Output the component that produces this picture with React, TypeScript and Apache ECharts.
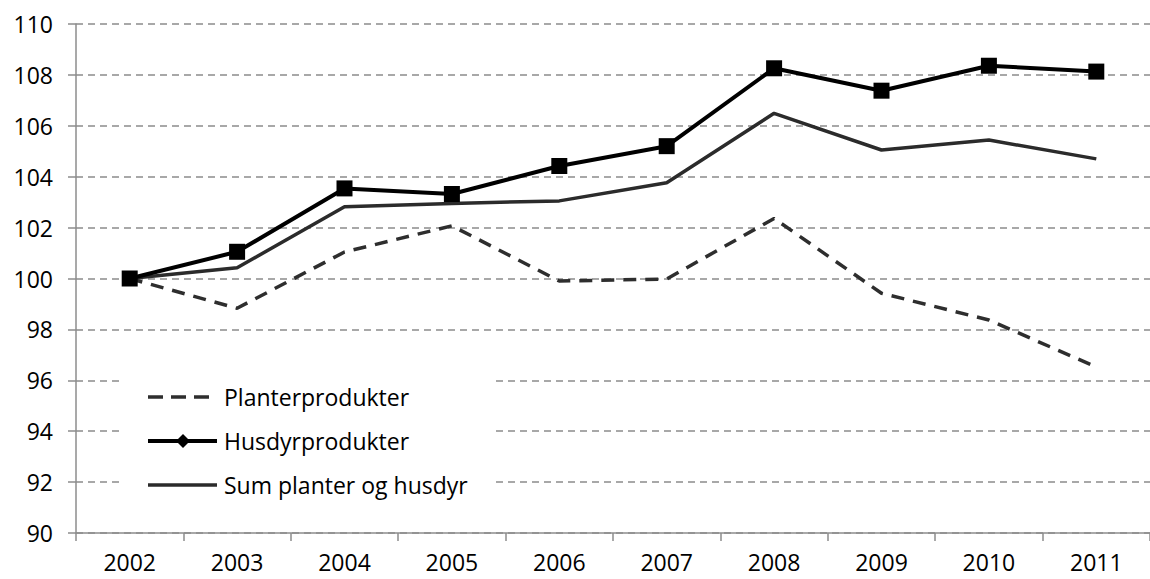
import React, { useEffect, useRef } from "react";
import * as echarts from "echarts";

const years = ["2002", "2003", "2004", "2005", "2006", "2007", "2008", "2009", "2010", "2011"];
const planterprodukter = [100, 98.83, 101.04, 102.07, 99.9, 99.98, 102.36, 99.42, 98.37, 96.52];
const husdyrprodukter = [100, 101.05, 103.54, 103.32, 104.42, 105.2, 108.26, 107.38, 108.36, 108.13];
const sumPlanterHusdyr = [100, 100.42, 102.82, 102.95, 103.05, 103.76, 106.49, 105.05, 105.44, 104.7];
const legendNames = ["Planterprodukter", "Husdyrprodukter", "Sum planter og husdyr"];

const FONT = "'Open Sans', 'Noto Sans', sans-serif";
const GRID_COLOR = "#8c8c8c";

export default function App() {
  const ref = useRef<HTMLDivElement>(null);
  useEffect(() => {
    if (!ref.current) return;
    const chart = echarts.init(ref.current, undefined, { renderer: "svg" });
    const lx0 = 148;
    const lx1 = 217;
    const rowY = [397, 441, 485];
    chart.setOption({
      animation: false,
      backgroundColor: "#ffffff",
      grid: { left: 76, top: 24, width: 1082, height: 509, containLabel: false },
      xAxis: {
        type: "category",
        data: years,
        boundaryGap: true,
        axisLine: { lineStyle: { color: GRID_COLOR, width: 1.5 } },
        axisTick: { show: true, length: 8, lineStyle: { color: GRID_COLOR, width: 1.5 } },
        axisLabel: { color: "#000", fontSize: 23, fontFamily: FONT, margin: 17 },
        splitLine: { show: false },
      },
      yAxis: {
        type: "value",
        min: 90,
        max: 110,
        interval: 2,
        axisLine: { show: true, lineStyle: { color: GRID_COLOR, width: 1.5 } },
        axisTick: { show: true, length: 8, lineStyle: { color: GRID_COLOR, width: 1.5 } },
        axisLabel: { color: "#000", fontSize: 23, fontFamily: FONT, margin: 23 },
        splitLine: { show: true, lineStyle: { color: GRID_COLOR, width: 1.5, type: [7, 5] } },
      },
      series: [
        {
          name: legendNames[0],
          type: "line",
          data: planterprodukter,
          symbol: "none",
          lineStyle: { color: "#2e2e2e", width: 3.5, type: [13, 9] },
          z: 3,
        },
        {
          name: legendNames[2],
          type: "line",
          data: sumPlanterHusdyr,
          symbol: "none",
          lineStyle: { color: "#2b2b2b", width: 3.5 },
          z: 4,
        },
        {
          name: legendNames[1],
          type: "line",
          data: husdyrprodukter,
          symbol: "rect",
          symbolSize: 16,
          showSymbol: true,
          itemStyle: { color: "#000000" },
          lineStyle: { color: "#000000", width: 4 },
          z: 5,
        },
      ],
      graphic: [
        {
          type: "rect",
          shape: { x: 120, y: 345, width: 373, height: 176 },
          style: { fill: "#ffffff" },
          z: 10,
        },
        {
          type: "line",
          shape: { x1: lx0, y1: rowY[0], x2: lx1, y2: rowY[0] },
          style: { stroke: "#2e2e2e", lineWidth: 3.5, lineDash: [15, 8] },
          z: 11,
        },
        {
          type: "line",
          shape: { x1: lx0, y1: rowY[1], x2: lx1, y2: rowY[1] },
          style: { stroke: "#000000", lineWidth: 4 },
          z: 11,
        },
        {
          type: "polygon",
          shape: {
            points: [
              [183, rowY[1] - 7],
              [190, rowY[1]],
              [183, rowY[1] + 7],
              [176, rowY[1]],
            ],
          },
          style: { fill: "#000000" },
          z: 12,
        },
        {
          type: "line",
          shape: { x1: lx0, y1: rowY[2], x2: lx1, y2: rowY[2] },
          style: { stroke: "#2b2b2b", lineWidth: 3.5 },
          z: 11,
        },
        ...legendNames.map((name, i) => ({
          type: "text",
          x: 224,
          y: rowY[i],
          style: {
            text: name,
            fill: "#000000",
            fontSize: 23,
            fontFamily: FONT,
            verticalAlign: "middle",
            align: "left",
          },
          z: 12,
        })),
      ],
    });
    return () => chart.dispose();
  }, []);
  return (
    <div
      ref={ref}
      style={{ position: "absolute", left: 0, top: 0, width: 1150, height: 579 }}
    />
  );
}
